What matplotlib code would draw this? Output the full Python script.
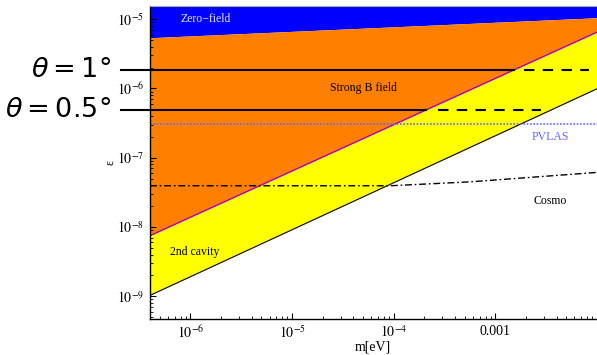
import numpy as np
import matplotlib
matplotlib.use("Agg")
import matplotlib.pyplot as plt
from matplotlib.ticker import FixedLocator, LogLocator, NullFormatter

plt.rcParams['font.family'] = ['Liberation Serif', 'DejaVu Serif']
plt.rcParams['mathtext.fontset'] = 'stix'

# plot range
m_lim = [4e-7, 1e-2]
eps_lim = [4.7e-10, 1.55e-5]

# region boundaries (straight lines in log-log, values at both ends of m range)
m_edges = [4e-7, 1e-2]
zero_field_eps = [5.4e-6, 1.05e-5]
strong_b_eps = [7.5e-9, 6.5e-6]
cavity_eps = [1.03e-9, 9.9e-7]

# theta lines
theta_labels = ['$\\theta = 1\u00b0$', '$\\theta = 0.5\u00b0$']
theta_eps = [1.84e-6, 4.87e-7]
theta_solid_start = 2.07e-7
theta_dash_start = [1.9e-3, 2.7e-4]
theta_dash_end = [8.3e-3, 2.8e-3]

# PVLAS
pvlas_eps = 3.05e-7

# Cosmo bound
cosmo_m = [4e-7, 9.3e-5, 5.7e-4, 2.6e-3, 1e-2]
cosmo_eps = [3.94e-8, 3.94e-8, 4.49e-8, 5.3e-8, 6.14e-8]

x_ticks = [1e-6, 1e-5, 1e-4, 1e-3]
x_ticklabels = [r'$10^{-6}$', r'$10^{-5}$', r'$10^{-4}$', '0.001']
y_ticks = [1e-9, 1e-8, 1e-7, 1e-6, 1e-5]
y_ticklabels = [r'$10^{-9}$', r'$10^{-8}$', r'$10^{-7}$', r'$10^{-6}$', r'$10^{-5}$']

fig = plt.figure(figsize=(5.97, 3.55), dpi=100)
ax = fig.add_axes([150 / 597, 1 - 319 / 355, 447 / 597, 313 / 355])
ax.set_xscale('log')
ax.set_yscale('log')
ax.set_xlim(m_lim)
ax.set_ylim(eps_lim)

# filled regions
ax.fill_between(m_edges, zero_field_eps, [eps_lim[1]] * 2, color='#0000ff', lw=0)
ax.fill_between(m_edges, strong_b_eps, zero_field_eps, color='#ff8000', lw=0)
ax.fill_between(m_edges, cavity_eps, strong_b_eps, color='#ffff00', lw=0)
ax.plot(m_edges, strong_b_eps, color='#b000c0', lw=1.0)
ax.plot(m_edges, cavity_eps, color='black', lw=0.8)

# PVLAS
ax.axhline(pvlas_eps, color='#6666ff', lw=1.2, ls=(0, (1, 1)))
ax.text(3.5e-3, 1.98e-7, 'PVLAS', color='#6666ff', fontsize=8.5, ha='center', va='center')

# Cosmo
ax.plot(cosmo_m, cosmo_eps, color='black', lw=1.0, ls=(0, (5, 2, 1.2, 2)))
ax.text(3.5e-3, 2.4e-8, 'Cosmo', fontsize=8.5, ha='center', va='center')

# theta lines: solid up to the strong-B boundary, then dashed
lb = np.log10(m_edges)
ls_b = np.log10(strong_b_eps)
for lab, e, ds, de in zip(theta_labels, theta_eps, theta_dash_start, theta_dash_end):
    cross = 10 ** np.interp(np.log10(e), ls_b, lb)
    ax.plot([theta_solid_start, cross], [e, e], color='black', lw=1.5, clip_on=False)
    ax.plot([ds, de], [e, e], color='black', lw=1.5, ls=(0, (5, 4)))
    ax.annotate(lab, xy=(theta_solid_start, e), xycoords='data',
                xytext=(-7, 0), textcoords='offset points',
                ha='right', va='center', fontsize=19.5,
                math_fontfamily='dejavusans', annotation_clip=False)

# region labels
ax.text(1.42e-6, 1.0e-5, 'Zero\u2212field', color='#e4e4ff', fontsize=8.5, ha='center', va='center')
ax.text(5.06e-5, 1.0e-6, 'Strong B field', fontsize=8.5, ha='center', va='center')
ax.text(1.1e-6, 4.3e-9, '2nd cavity', fontsize=8.5, ha='center', va='center')

# axes styling
ax.spines['right'].set_visible(False)
ax.spines['top'].set_color('#aaaaaa')
ax.spines['top'].set_linewidth(0.8)
ax.spines['left'].set_linewidth(1.0)
ax.spines['bottom'].set_linewidth(1.0)

ax.xaxis.set_major_locator(FixedLocator(x_ticks))
ax.set_xticklabels(x_ticklabels)
ax.yaxis.set_major_locator(FixedLocator(y_ticks))
ax.set_yticklabels(y_ticklabels)
ax.xaxis.set_minor_locator(LogLocator(base=10, subs=np.arange(2, 10), numticks=20))
ax.yaxis.set_minor_locator(LogLocator(base=10, subs=np.arange(2, 10), numticks=20))
ax.xaxis.set_minor_formatter(NullFormatter())
ax.yaxis.set_minor_formatter(NullFormatter())
ax.tick_params(which='major', direction='in', length=4, width=0.8, labelsize=10, pad=4)
ax.tick_params(which='minor', direction='in', length=2, width=0.6)
ax.tick_params(top=False, right=False, which='both')

fig.text(373 / 597, 1 - 347 / 355, 'm[eV]', fontsize=10, ha='center', va='center')
fig.text(110 / 597, 1 - 162 / 355, '\u03b5', rotation=90, fontsize=8.5, ha='center', va='center')

fig.savefig('out.png', dpi=100)
